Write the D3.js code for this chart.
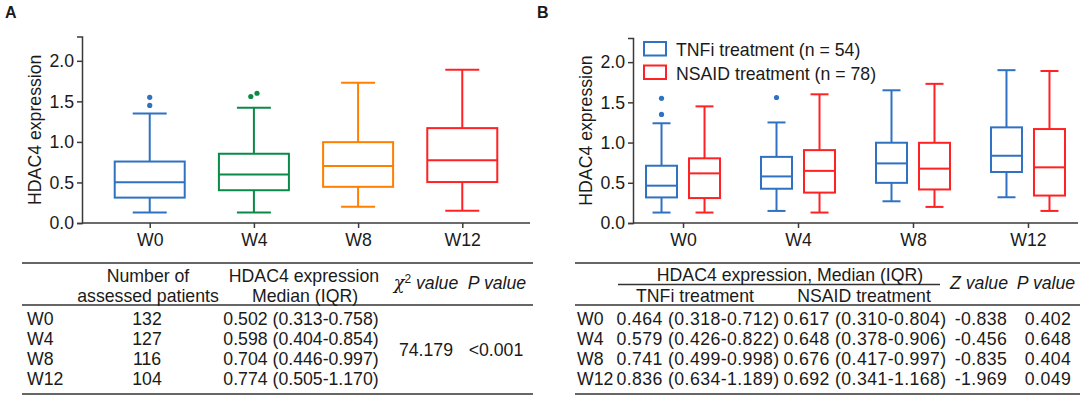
<!DOCTYPE html>
<html>
<head>
<meta charset="utf-8">
<script src="https://cdn.jsdelivr.net/npm/d3@7"></script>
<style>
  body { margin: 0; background: #fff; }
  text { font-family: "Liberation Sans", Arial, sans-serif; fill: #1a1a1a; }
</style>
</head>
<body>
<svg id="fig" width="1084" height="396"></svg>
<script>
// DATA
const weeks = ["W0", "W4", "W8", "W12"];

// panel A: all patients
const nPatients = [132, 127, 116, 104];
const medA = [0.502, 0.598, 0.704, 0.774];
const q1A = [0.313, 0.404, 0.446, 0.505];
const q3A = [0.758, 0.854, 0.997, 1.17];
const loA = [0.13, 0.13, 0.2, 0.15];
const hiA = [1.35, 1.42, 1.73, 1.89];
const outA = [[1.45, 1.55], [1.56, 1.6], [], []];
const colorsA = ["#2f72c2", "#0b8a47", "#ff7f00", "#ff2222"];
const iqrTextA = ["0.502 (0.313-0.758)", "0.598 (0.404-0.854)", "0.704 (0.446-0.997)", "0.774 (0.505-1.170)"];
const chi2 = "74.179";
const pA = "<0.001";

// panel B: TNFi vs NSAID
const groupsB = ["TNFi treatment (n = 54)", "NSAID treatment (n = 78)"];
const colorsB = ["#2f72c2", "#ff2222"];
const tnfMed = [0.464, 0.579, 0.741, 0.836];
const tnfQ1 = [0.318, 0.426, 0.499, 0.634];
const tnfQ3 = [0.712, 0.822, 0.998, 1.189];
const tnfLo = [0.13, 0.15, 0.27, 0.32];
const tnfHi = [1.24, 1.25, 1.65, 1.9];
const tnfOut = [[1.35, 1.55], [1.56], [], []];
const nsMed = [0.617, 0.648, 0.676, 0.692];
const nsQ1 = [0.31, 0.378, 0.417, 0.341];
const nsQ3 = [0.804, 0.906, 0.997, 1.168];
const nsLo = [0.13, 0.13, 0.2, 0.15];
const nsHi = [1.45, 1.6, 1.73, 1.89];
const nsOut = [[], [], [], []];
const tnfText = ["0.464 (0.318-0.712)", "0.579 (0.426-0.822)", "0.741 (0.499-0.998)", "0.836 (0.634-1.189)"];
const nsText = ["0.617 (0.310-0.804)", "0.648 (0.378-0.906)", "0.676 (0.417-0.997)", "0.692 (0.341-1.168)"];
const zVals = ["-0.838", "-0.456", "-0.835", "-1.969"];
const pB = ["0.402", "0.648", "0.404", "0.049"];

const yTicks = [0, 0.5, 1, 1.5, 2];

// CANVAS SETUP
const svg = d3.select("#fig");
const FS = 17.7;
const axisColor = "#3a3a3a";

function boxStats(i, med, q1, q3, lo, hi, out) {
  return { week: weeks[i], med: med[i], q1: q1[i], q3: q3[i], lo: lo[i], hi: hi[i], out: out[i] };
}

function drawAxes(g, x, y, x0, x1, label, labelX) {
  const ya = g.append("g")
    .attr("transform", `translate(${x0},0)`)
    .call(d3.axisLeft(y).tickValues(yTicks).tickFormat(d3.format(".1f")).tickSize(5).tickPadding(3));
  ya.select(".domain").attr("stroke", axisColor).attr("stroke-width", 1.5);
  ya.selectAll(".tick line").attr("stroke", axisColor).attr("stroke-width", 1.5);
  ya.selectAll(".tick text").style("font-size", FS + "px").attr("fill", "#1a1a1a");

  const xa = g.append("g")
    .attr("transform", `translate(0,${y(0)})`)
    .call(d3.axisBottom(x).tickSize(5).tickPadding(5).tickSizeOuter(0));
  xa.select(".domain").attr("d", `M${x0},0H${x1}`).attr("stroke", axisColor).attr("stroke-width", 1.5);
  xa.selectAll(".tick line").attr("stroke", axisColor).attr("stroke-width", 1.5);
  xa.selectAll(".tick text").style("font-size", FS + "px").attr("fill", "#1a1a1a");

  g.append("text")
    .attr("transform", `translate(${labelX},${(y(0) + y(2.3)) / 2}) rotate(-90)`)
    .attr("text-anchor", "middle")
    .attr("dy", "0.35em")
    .style("font-size", FS + "px")
    .text(label);
}

function drawBox(g, d, cx, y, bw, cw, color) {
  const b = g.append("g").attr("fill", "none").attr("stroke", color).attr("stroke-width", 2);
  b.append("line").attr("x1", cx).attr("x2", cx).attr("y1", y(d.hi)).attr("y2", y(d.q3));
  b.append("line").attr("x1", cx).attr("x2", cx).attr("y1", y(d.q1)).attr("y2", y(d.lo));
  b.append("line").attr("x1", cx - cw / 2).attr("x2", cx + cw / 2).attr("y1", y(d.hi)).attr("y2", y(d.hi));
  b.append("line").attr("x1", cx - cw / 2).attr("x2", cx + cw / 2).attr("y1", y(d.lo)).attr("y2", y(d.lo));
  b.append("rect").attr("x", cx - bw / 2).attr("width", bw)
    .attr("y", y(d.q3)).attr("height", y(d.q1) - y(d.q3)).attr("fill", "#fff");
  b.append("line").attr("x1", cx - bw / 2).attr("x2", cx + bw / 2).attr("y1", y(d.med)).attr("y2", y(d.med));

  // outliers, nudged sideways when they would overlap
  const r = 2.6;
  const pts = d.out.map((v) => ({ v, dx: 0 }));
  for (let k = 1; k < pts.length; k++) {
    if (Math.abs(y(pts[k].v) - y(pts[k - 1].v)) < 2 * r + 1) {
      pts[k - 1].dx = -r - 0.5;
      pts[k].dx = r + 0.5;
    }
  }
  g.selectAll(null).data(pts).join("circle")
    .attr("cx", (p) => cx + p.dx)
    .attr("cy", (p) => y(p.v))
    .attr("r", r)
    .attr("fill", color);
}

function txt(g, x, y, s, anchor, opts) {
  const t = g.append("text").attr("x", x).attr("y", y)
    .attr("text-anchor", anchor || "middle")
    .style("font-size", FS + "px")
    .text(s);
  if (opts && opts.italic) t.style("font-style", "italic");
  if (opts && opts.spacing) t.style("letter-spacing", opts.spacing + "px");
  return t;
}

function hline(g, x1, x2, y, w) {
  g.append("line").attr("x1", x1).attr("x2", x2).attr("y1", y).attr("y2", y)
    .attr("stroke", "#333").attr("stroke-width", w || 1.6);
}

// PANEL A
const gA = svg.append("g");
gA.append("text").attr("x", 5).attr("y", 18).style("font-size", "16px").style("font-weight", "bold").text("A");

const xA0 = 82, xA1 = 530;
const xA = d3.scalePoint().domain(weeks).range([xA0, xA1]).padding(0.65);
const yA = d3.scaleLinear().domain([0, 2.3]).range([223, 36.5]);
drawAxes(gA, xA, yA, xA0, xA1, "HDAC4 expression", 35);

weeks.forEach((w, i) => {
  drawBox(gA, boxStats(i, medA, q1A, q3A, loA, hiA, outA), xA(w), yA, 70, 34, colorsA[i]);
});

// table A
const rowY = [325, 345, 365, 385];
const tA = gA.append("g");
hline(tA, 22, 533, 263);
hline(tA, 22, 533, 305);
hline(tA, 22, 533, 394);
txt(tA, 148, 282, "Number of");
txt(tA, 148, 302, "assessed patients");
txt(tA, 304, 282, "HDAC4 expression");
txt(tA, 305, 302, "Median (IQR)");
const chiHead = txt(tA, 426, 289, "", "middle", { italic: true });
chiHead.append("tspan").style("font-family", "'DejaVu Serif', serif").text("χ");
chiHead.append("tspan").attr("dy", -6).style("font-size", "12px").style("font-style", "normal").text("2");
chiHead.append("tspan").attr("dy", 6).text(" value");
txt(tA, 497, 289, "P value", "middle", { italic: true });
weeks.forEach((w, i) => {
  txt(tA, 27, rowY[i], w, "start");
  txt(tA, 147, rowY[i], nPatients[i]);
  txt(tA, 301, rowY[i], iqrTextA[i]);
});
txt(tA, 426, 356, chi2);
txt(tA, 496, 356, pA);

// PANEL B
const gB = svg.append("g");
gB.append("text").attr("x", 537).attr("y", 18).style("font-size", "16px").style("font-weight", "bold").text("B");

const xB0 = 633, xB1 = 1078;
const xB = d3.scalePoint().domain(weeks).range([xB0, xB1]).padding(0.435);
const xSub = d3.scalePoint().domain(groupsB).range([-21.5, 21.5]);
const yB = d3.scaleLinear().domain([0, 2.3]).range([223, 38]);
drawAxes(gB, xB, yB, xB0, xB1, "HDAC4 expression", 586);

weeks.forEach((w, i) => {
  drawBox(gB, boxStats(i, tnfMed, tnfQ1, tnfQ3, tnfLo, tnfHi, tnfOut), xB(w) + xSub(groupsB[0]), yB, 31, 18, colorsB[0]);
  drawBox(gB, boxStats(i, nsMed, nsQ1, nsQ3, nsLo, nsHi, nsOut), xB(w) + xSub(groupsB[1]), yB, 31, 18, colorsB[1]);
});

// legend
const leg = gB.append("g").attr("transform", "translate(644,42)");
groupsB.forEach((name, i) => {
  const row = leg.append("g").attr("transform", `translate(0,${i * 23.5})`);
  row.append("rect").attr("x", 0).attr("y", 0).attr("width", 22).attr("height", 13.5)
    .attr("fill", "#fff").attr("stroke", colorsB[i]).attr("stroke-width", 2);
  txt(row, 32, 14, name, "start");
});

// table B
const tB = gB.append("g");
hline(tB, 575, 1080, 263);
hline(tB, 618, 940, 284.5, 1.4);
hline(tB, 575, 1080, 305);
hline(tB, 575, 1080, 394);
txt(tB, 790, 281, "HDAC4 expression, Median (IQR)");
txt(tB, 695, 302, "TNFi treatment");
txt(tB, 864, 302, "NSAID treatment");
txt(tB, 979, 289, "Z value", "middle", { italic: true });
txt(tB, 1046, 289, "P value", "middle", { italic: true });
weeks.forEach((w, i) => {
  txt(tB, 577, rowY[i], w, "start");
  txt(tB, 698, rowY[i], tnfText[i], "middle", { spacing: 0.4 });
  txt(tB, 865, rowY[i], nsText[i], "middle", { spacing: 0.4 });
  txt(tB, 981, rowY[i], zVals[i], "middle", { spacing: 0.4 });
  txt(tB, 1048, rowY[i], pB[i], "middle", { spacing: 0.4 });
});
</script>
</body>
</html>
